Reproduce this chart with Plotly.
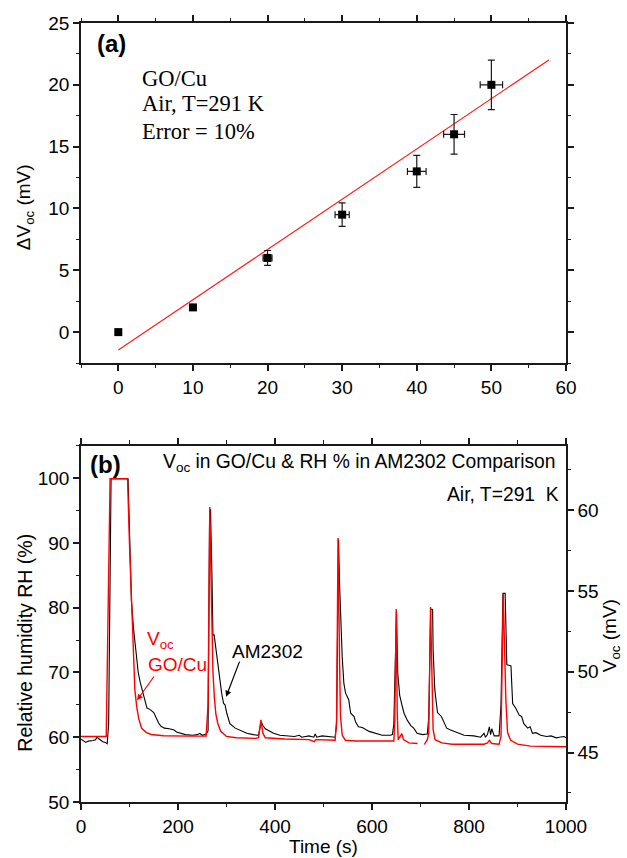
import plotly.graph_objects as go

# ---------------- panel (a): ΔVoc versus ΔRH ----------------
d_rh = [0, 10, 20, 30, 40, 45, 50]
d_voc = [0, 2, 6, 9.5, 13, 16, 20]
d_rh_err = [0, 0.3, 0.6, 0.95, 1.25, 1.4, 1.5]
rel_error = 0.10  # "Error = 10%"
fit_slope = 0.4066
fit_intercept = -1.45
fit_x = [0, 57.7]

# ---------------- panel (b): time traces ----------------
am_t = [0, 5, 10, 15, 20, 25, 30, 33, 36, 40, 45, 50, 54, 57, 62, 97, 101, 104, 108, 113,
        118, 122, 127, 131, 136, 142, 146, 150, 155, 160, 165, 172, 182, 192, 197, 205, 215,
        230, 240, 245, 250, 258, 262, 265, 267, 270, 272, 274.5, 280, 283.5, 287, 290, 294,
        297, 300.6, 307, 318, 330, 342, 355, 366, 371.5, 375, 380, 390, 397, 410, 420, 440,
        450, 455, 470, 480, 483, 486, 497, 511, 524, 527, 531, 533, 535, 538.6, 542, 545.5,
        552, 556, 563, 566, 572, 580, 594, 607, 621, 638, 642, 645, 650.5, 653, 657, 661,
        666, 673, 680, 686, 693, 704, 714, 717, 721, 725, 726, 729.5, 733, 735, 743, 747,
        754, 762, 770, 780, 790, 810, 824, 831, 834, 838, 842, 844.5, 847, 852, 862, 866,
        870, 874.5, 878, 886.5, 890, 897, 903.5, 908.5, 913, 921, 926, 931, 938, 948, 960,
        969, 980, 986, 996, 1000]
am_rh = [59.7, 59.4, 59.2, 59.4, 59.4, 59.5, 59.6, 60.0, 59.8, 59.6, 59.3, 59.2, 59.0, 62,
         99.9, 99.9, 90, 81, 77, 73.5, 70, 68.5, 67.2, 66, 64.5, 64.3, 64.0, 63.8, 63.0, 62.2,
         61.7, 61.4, 61.3, 61.1, 60.8, 60.6, 60.4, 60.3, 60.4, 60.6, 60.3, 60.5, 61, 93, 95.2,
         85, 75.8, 75.8, 72.4, 70.9, 68.3, 66.8, 65.2, 65.0, 63.7, 62.1, 61.4, 61.0, 60.6,
         60.4, 60.3, 62.4, 61.8, 61.3, 60.9, 60.6, 60.3, 60.2, 60.1, 60.3, 60.0, 60.2, 60.0,
         60.5, 60.0, 60.2, 60.1, 60.0, 62, 90.5, 83.8, 78.6, 72.4, 68.3, 66.8, 65.8, 63.7,
         63.2, 62.4, 61.6, 61.5, 60.9, 60.6, 60.3, 60.3, 60.4, 62, 79.4, 70, 66.5, 65.2, 63.7,
         62.6, 61.8, 61.4, 60.6, 60.4, 60.5, 63, 79.8, 79.7, 73.5, 67.3, 65.2, 63.8, 63.2,
         62.6, 61.4, 61.1, 60.9, 60.6, 60.3, 60.2, 60.0, 60.6, 60.0, 60.4, 61.6, 60.4, 61.3,
         60.2, 60.2, 65, 82.2, 82.2, 71.2, 71.0, 65.2, 64.4, 63.4, 63.2, 62.1, 61.4, 61.6,
         60.6, 60.7, 60.3, 60.1, 60.2, 59.9, 60.0, 60.1, 59.9]

voc_t = [0, 20, 40, 52, 60, 96, 100, 104, 108, 111, 115, 119, 125, 135, 145, 170, 220, 258,
         262, 265.5, 268, 270, 272, 275, 278, 282, 288, 300, 320, 360, 366, 371, 375, 380,
         420, 470, 478, 481, 484, 490, 500, 524, 527, 530, 533, 535, 538.6, 545, 566, 600,
         645, 647, 650, 652, 654, 661.5, 665, 676, 694, 700, 708, 714, 717, 720.7, 724, 726,
         730, 744, 765, 831, 838, 842, 847, 862, 866, 870.6, 876, 879.5, 886, 900, 927, 1000]
voc_mv = [46.0, 46.0, 46.0, 46.0, 61.95, 61.95, 57.9, 54.1, 50.4, 48.9, 47.8, 47.1,
          46.5, 46.24, 46.12, 46.04, 46.02, 46.02, 48, 60.2, 56.0, 52.4, 50.0, 48.4, 47.4,
          46.8, 46.32, 46.0, 45.92, 45.88, 45.92, 47.03, 46.2, 45.92, 45.84, 45.80, 45.7,
          45.68, 45.8, 45.80, 45.78, 45.76, 47, 58.28, 50.94, 47.27, 46.08, 45.76, 45.72,
          45.72, 45.72, 47, 53.89, 47.5, 45.80, 46.17, 45.80, 45.6, 45.56, None, 45.5, 45.8,
          46.2, 54.01, 49.31, 46.44, 45.8, 45.6, 45.52, 45.52, 45.6, 45.76, 45.56, 45.52, 46,
          54.85, 48.27, 46.24, 45.76, 45.52, 45.4, 45.36]

ARIAL = "Arial, 'Liberation Sans', sans-serif"
TIMES = "'Times New Roman', 'Liberation Serif', serif"
INK = "#1a1a1a"
FS = 19

fig = go.Figure()

# panel (a): fitted line and data with error bars
fig.add_trace(go.Scatter(
    x=fit_x, y=[fit_intercept + fit_slope * v for v in fit_x],
    mode="lines", line=dict(color="#ff1a1a", width=1.2),
    xaxis="x", yaxis="y", showlegend=False, hoverinfo="skip"))
fig.add_trace(go.Scatter(
    x=d_rh, y=d_voc, mode="markers",
    marker=dict(symbol="square", size=8, color="black"),
    error_y=dict(type="data", array=[rel_error * v for v in d_voc],
                 color=INK, thickness=1.2, width=3.5),
    error_x=dict(type="data", array=d_rh_err, color=INK, thickness=1.2, width=3.5),
    xaxis="x", yaxis="y", showlegend=False))

# panel (b): AM2302 humidity (left axis) and GO/Cu Voc (right axis)
fig.add_trace(go.Scatter(
    x=am_t, y=am_rh, mode="lines", line=dict(color="black", width=1.1),
    xaxis="x2", yaxis="y2", showlegend=False))
fig.add_trace(go.Scatter(
    x=voc_t, y=voc_mv, mode="lines", line=dict(color="#ff0000", width=1.4),
    connectgaps=False, xaxis="x2", yaxis="y3", showlegend=False))

tickfont = dict(family=ARIAL, size=FS, color="black")


def axis_style(**kw):
    base = dict(showline=True, linecolor=INK, linewidth=1.5, ticks="outside",
                ticklen=6, tickwidth=1.5, tickcolor=INK, showgrid=False,
                zeroline=False, tickfont=tickfont)
    base.update(kw)
    return base


def minor(step):
    return dict(ticks="outside", ticklen=3.5, tickwidth=1.3, tickcolor=INK, dtick=step)


fig.update_layout(
    width=627, height=858,
    margin=dict(l=81, r=61, t=23, b=56),
    paper_bgcolor="white", plot_bgcolor="white",
    xaxis=axis_style(domain=[0, 1], anchor="y", range=[-5, 60], tick0=0, dtick=10,
                     minor=minor(5), mirror="ticks"),
    yaxis=axis_style(domain=[0.5635, 1], anchor="x", range=[-2.5, 25], tick0=0, dtick=5,
                     minor=minor(2.5), mirror="ticks"),
    xaxis2=axis_style(domain=[0, 1], anchor="y2", range=[0, 1000], tick0=0, dtick=200,
                      minor=minor(100), mirror="ticks"),
    yaxis2=axis_style(domain=[0, 0.4574], anchor="x2", range=[50, 105], tick0=0, dtick=10,
                      minor=minor(5)),
    yaxis3=axis_style(overlaying="y2", anchor="x2", side="right", range=[41.94, 64.0],
                      tick0=0, dtick=5, minor=minor(2.5)),
)

ann = []
# panel (a) labels
ann.append(dict(xref="x", yref="y", x=-3.1, y=23.35, text="<b>(a)</b>", showarrow=False,
                xanchor="left", yanchor="middle", font=dict(family=ARIAL, size=24, color="black")))
for txt, yy in [("GO/Cu", 20.55), ("Air, T=291 K", 18.45), ("Error = 10%", 16.26)]:
    ann.append(dict(xref="x", yref="y", x=2.9, y=yy, text=txt, showarrow=False,
                    xanchor="left", yanchor="middle",
                    font=dict(family=TIMES, size=22.5, color="black")))
ann.append(dict(xref="paper", yref="y", x=0, xshift=-56, y=10.1,
                text="ΔV<sub>oc</sub> (mV)", textangle=-90, showarrow=False,
                xanchor="center", yanchor="middle",
                font=dict(family=ARIAL, size=FS, color="black")))
ann.append(dict(xref="x", yref="y", x=27.5, y=-6.6, text="ΔRH (%)", showarrow=False,
                xanchor="center", yanchor="middle",
                font=dict(family=ARIAL, size=FS, color="black")))

# panel (b) labels
ann.append(dict(xref="x2", yref="y2", x=14.4, y=102.1, text="<b>(b)</b>", showarrow=False,
                xanchor="left", yanchor="middle", font=dict(family=ARIAL, size=24, color="black")))
ann.append(dict(xref="x2", yref="y2", x=165, y=102.3,
                text="V<sub>oc</sub> in GO/Cu & RH % in AM2302 Comparison", showarrow=False,
                xanchor="left", yanchor="middle", font=dict(family=ARIAL, size=19.3, color="black")))
ann.append(dict(xref="x2", yref="y2", x=989, y=97.5, text="Air, T=291  K", showarrow=False,
                xanchor="right", yanchor="middle", font=dict(family=ARIAL, size=19.3, color="black")))
ann.append(dict(xref="x2", yref="y2", x=131, y=75.0, text="V<sub>oc</sub>", showarrow=False,
                xanchor="left", yanchor="middle", font=dict(family=ARIAL, size=19, color="#ff0000")))
ann.append(dict(xref="x2", yref="y2", x=133, y=71.2, text="GO/Cu", showarrow=False,
                xanchor="left", yanchor="middle", font=dict(family=ARIAL, size=19, color="#ff0000")))
ann.append(dict(xref="x2", yref="y2", x=115.5, y=65.7, ax=152.7, ay=69.6,
                axref="x2", ayref="y2", text="", showarrow=True, arrowhead=2,
                arrowsize=1, arrowwidth=1.2, arrowcolor="#ff0000"))
ann.append(dict(xref="x2", yref="y2", x=308, y=73.25, text="AM2302", showarrow=False,
                xanchor="left", yanchor="middle", font=dict(family=ARIAL, size=19, color="black")))
ann.append(dict(xref="x2", yref="y2", x=299.2, y=66.25, ax=328, ay=71.9,
                axref="x2", ayref="y2", text="", showarrow=True, arrowhead=2,
                arrowsize=1, arrowwidth=1.2, arrowcolor="black"))
ann.append(dict(xref="paper", yref="y2", x=0, xshift=-56, y=74.6,
                text="Relative humidity RH (%)", textangle=-90, showarrow=False,
                xanchor="center", yanchor="middle",
                font=dict(family=ARIAL, size=19.5, color="black")))
ann.append(dict(xref="paper", yref="y3", x=1, xshift=45, y=52.2,
                text="V<sub>oc</sub> (mV)", textangle=-90, showarrow=False,
                xanchor="center", yanchor="middle",
                font=dict(family=ARIAL, size=FS, color="black")))
ann.append(dict(xref="x2", yref="paper", x=499, y=0, yshift=-44, text="Time (s)",
                showarrow=False, xanchor="center", yanchor="middle",
                font=dict(family=ARIAL, size=FS, color="black")))

fig.update_layout(annotations=ann)
fig.write_html("out.html")
